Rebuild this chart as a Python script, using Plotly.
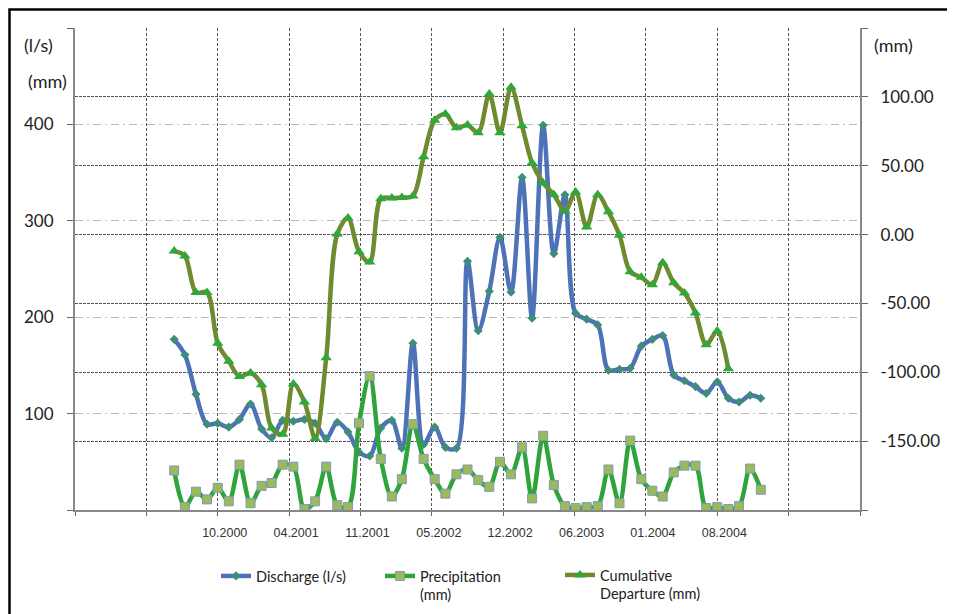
import pandas as pd
import plotly.graph_objects as go

# ---------------- data ----------------
start_month = "2000-06-01"
n_months = 55
months = pd.date_range(start_month, periods=n_months, freq="MS")

discharge = [177, 161, 120, 89, 90, 86, 94, 110, 84, 75, 93, 92, 94, 90, 74, 91, 81, 60, 56, 85,
             93, 64, 173, 68, 86, 65, 64, 258, 186, 227, 283, 226, 345, 199, 399, 266, 327, 204,
             198, 192, 145, 146, 147, 170, 177, 181, 140, 134, 128, 121, 133, 116, 112, 119, 116]

precipitation = [41, 3, 19, 11, 23, 9, 47, 7, 25, 28, 47, 45, 1, 9, 45, 5, 3, 90, 139, 53,
                 14, 32, 89, 53, 32, 17, 37, 42, 31, 24, 50, 37, 65, 12, 77, 26, 4, 2, 3, 4,
                 42, 7, 72, 32, 20, 14, 39, 46, 46, 2, 3, 1, 4, 43, 21]

cumulative_departure = [-12, -15.5, -42, -42, -79, -92, -103, -100.5, -109, -140.5, -145, -108.5,
                        -121.5, -148, -89.5, 0.5, 12, -12.5, -20, 26, 26.5, 27, 28, 56.5, 83,
                        87.5, 77.5, 79.5, 74, 102, 74, 107, 79, 52, 37.5, 29, 17, 31, 5.5, 29,
                        16.5, -0.5, -27, -31, -36.5, -20.5, -35, -42.5, -57, -80, -70, -97.5,
                        None, None, None]

x_tick_labels = ["", "", "10.2000", "04.2001", "11.2001", "05.2002", "12.2002",
                 "06.2003", "01.2004", "08.2004", "", ""]
left_tick_vals = [0, 100, 200, 300, 400, 500]
left_tick_text = ["", "100", "200", "300", "400", ""]
right_tick_vals = [-200, -150, -100, -50, 0, 50, 100, 150]
right_tick_text = ["", "-150.00", "-100.00", "-50.00", "0.00", "50.00", "100.00", ""]

# ---------------- layout helpers ----------------
axis_start = pd.Timestamp("1999-08-28")
step = pd.Timedelta(days=200)
x_tick_vals = [axis_start + k * step for k in range(len(x_tick_labels))]
axis_end = x_tick_vals[-1]

W, H = 955, 614
OFF = 8                      # page body margin of the html page
PL, PT, PW, PH = 75, 28, 785, 482   # plot area in window pixels
L, T = PL - OFF, PT - OFF
R, B = W - L - PW, H - T - PH


def px2x(px):
    return (px - PL) / PW


def px2y(py):
    return (PT + PH - py) / PH


def cx(px):
    return (px - OFF) / W


def cy(py):
    return 1 - (py - OFF) / H


fig = go.Figure()

fig.add_trace(go.Scatter(
    x=months, y=discharge, name="Discharge (l/s)", mode="lines+markers",
    line=dict(color="#4E72B8", width=4.5, shape="spline", smoothing=0.9),
    marker=dict(symbol="diamond", size=7, color="#3E8C7A"),
    legend="legend",
))
fig.add_trace(go.Scatter(
    x=months, y=precipitation, name="Precipitation<br>(mm)", mode="lines+markers",
    line=dict(color="#2EA43B", width=4.5, shape="spline", smoothing=0.9),
    marker=dict(symbol="square", size=9, color="#9BBB59", line=dict(color="#7F98C0", width=1)),
    legend="legend2",
))
fig.add_trace(go.Scatter(
    x=months, y=cumulative_departure, name="Cumulative<br>Departure (mm)", mode="lines+markers",
    line=dict(color="#6E8B30", width=4.5, shape="spline", smoothing=0.9),
    marker=dict(symbol="triangle-up", size=10, color="#2EA83A"),
    yaxis="y2", legend="legend3", connectgaps=False,
))

tick_font = dict(family="Lato, Liberation Sans, sans-serif", size=17, color="#222")
legend_font = dict(family="Lato, Liberation Sans, sans-serif", size=14.5, color="#222")


def leg(px, py):
    return dict(x=cx(px), y=cy(py), xref="container", yref="container",
                xanchor="left", yanchor="top", font=legend_font,
                bgcolor="rgba(0,0,0,0)", valign="top", orientation="v")


def note(text, px, py):
    return dict(text=text, x=px2x(px), y=px2y(py), xref="paper", yref="paper",
                xanchor="center", yanchor="middle", showarrow=False,
                font=dict(family="Lato, sans-serif", size=18, color="#222"))


fig.update_layout(
    width=W, height=H,
    margin=dict(l=L, r=R, t=T, b=B, autoexpand=False),
    paper_bgcolor="white", plot_bgcolor="white",
    showlegend=True,
    xaxis=dict(
        type="date", range=[axis_start, axis_end],
        tickvals=x_tick_vals, ticktext=x_tick_labels,
        tickfont=dict(family="Liberation Sans, Arial, sans-serif", size=12.5, color="#333"),
        ticklabelshift=7, ticklabelstandoff=6,
        showgrid=True, gridcolor="#555", griddash="3px,2px", gridwidth=1,
        showline=True, linecolor="#888", linewidth=2,
        ticks="outside", ticklen=4, tickcolor="#666",
        zeroline=False, automargin=False,
    ),
    yaxis=dict(
        range=[0, 500], tickvals=left_tick_vals, ticktext=left_tick_text,
        tickfont=tick_font, ticklabelstandoff=10,
        showgrid=True, gridcolor="#BBBBBB", griddash="8px,4px,2px,4px", gridwidth=1,
        showline=True, linecolor="#888", linewidth=2,
        ticks="outside", ticklen=6, tickcolor="#666",
        zeroline=False, automargin=False,
    ),
    yaxis2=dict(
        range=[-200, 150], tickvals=right_tick_vals, ticktext=right_tick_text,
        overlaying="y", side="right", tickfont=tick_font, ticklabelstandoff=9,
        showgrid=True, gridcolor="#555", griddash="3px,1px", gridwidth=1,
        showline=True, linecolor="#888", linewidth=2,
        ticks="outside", ticklen=6, tickcolor="#666",
        zeroline=False, automargin=False,
    ),
    legend=leg(216, 560),
    legend2=leg(380, 560),
    legend3=leg(560, 559),
    annotations=[
        note("(l/s)", 38, 45),
        note("(mm)", 47, 81),
        note("(mm)", 893, 45),
    ],
    shapes=[
        dict(type="rect", xref="paper", yref="paper",
             x0=px2x(9.5), x1=px2x(990), y0=px2y(650), y1=px2y(9.5),
             line=dict(color="black", width=2.5), fillcolor="rgba(0,0,0,0)", layer="above"),
    ],
)

fig.write_html("out.html")
